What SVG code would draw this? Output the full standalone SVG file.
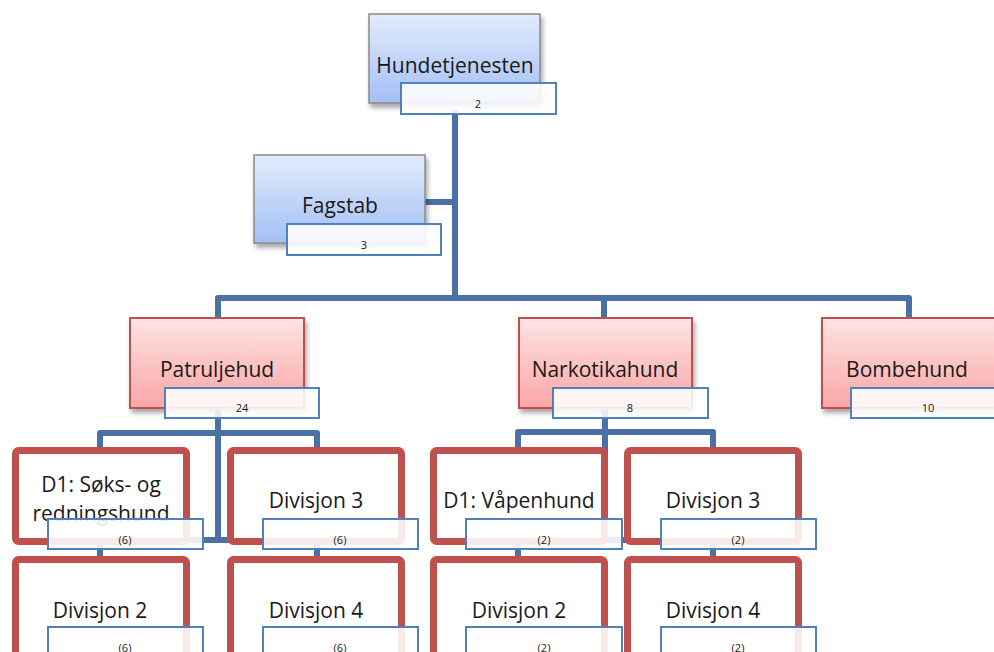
<svg xmlns="http://www.w3.org/2000/svg" width="994" height="652" viewBox="0 0 994 652">
  <defs>
    <linearGradient id="gBlue" x1="0" y1="0" x2="0" y2="1">
      <stop offset="0" stop-color="#e3ecfc"/>
      <stop offset="1" stop-color="#a3bff5"/>
    </linearGradient>
    <linearGradient id="gRed" x1="0" y1="0" x2="0" y2="1">
      <stop offset="0" stop-color="#ffe3e3"/>
      <stop offset="1" stop-color="#faa6a6"/>
    </linearGradient>
    <filter id="shadow" x="-10%" y="-10%" width="125%" height="130%">
      <feGaussianBlur in="SourceAlpha" stdDeviation="2.5"/>
      <feOffset dx="2" dy="4" result="b"/>
      <feComponentTransfer><feFuncA type="linear" slope="0.35"/></feComponentTransfer>
      <feMerge><feMergeNode/><feMergeNode in="SourceGraphic"/></feMerge>
    </filter>
  </defs>
  <style>
    .conn { fill: none; stroke: #4a70a6; stroke-width: 6; stroke-linejoin: round; stroke-linecap: butt; }
    .blue { fill: url(#gBlue); stroke: #8a8a8a; stroke-width: 1.5; filter: url(#shadow); }
    .red { fill: url(#gRed); stroke: #c0504d; stroke-width: 2; filter: url(#shadow); }
    .sub { fill: #ffffff; stroke: #c0504d; stroke-width: 7; }
    .lbl { fill: #ffffff; fill-opacity: 0.88; stroke: #4f81bd; stroke-width: 2; }
    .t { font-family: "Open Sans", "Liberation Sans", sans-serif; font-size: 21px; fill: #1a1a1a; text-anchor: middle; }
    .n { font-family: "Open Sans", "Liberation Sans", sans-serif; font-size: 11px; fill: #1a1a1a; text-anchor: middle; }
  </style>

  <rect width="994" height="652" fill="#ffffff"/>

  <g id="connectors">
    <path class="conn" d="M455,110 V298"/>
    <path class="conn" d="M425,202 H455"/>
    <path class="conn" d="M218,320 V298 H909 V320"/>
    <path class="conn" d="M604,298 V320"/>
    <!-- Patruljehud branch -->
    <path class="conn" d="M218,410 V540"/>
    <path class="conn" d="M100,449 V433 H317 V449"/>
    <path class="conn" d="M100,540 H317"/>
    <path class="conn" d="M100,540 V660"/>
    <path class="conn" d="M317,540 V660"/>
    <!-- Narkotikahund branch -->
    <path class="conn" d="M605,410 V540"/>
    <path class="conn" d="M518,449 V432 H713 V449"/>
    <path class="conn" d="M518,540 H713"/>
    <path class="conn" d="M518,540 V660"/>
    <path class="conn" d="M713,540 V660"/>
  </g>

  <g id="hundetjenesten">
    <rect class="blue" x="369" y="14" width="171" height="89"/>
    <text class="t" x="455" y="73">Hundetjenesten</text>
    <rect class="lbl" x="401" y="83" width="155" height="31"/>
    <text class="n" x="478" y="108">2</text>
  </g>

  <g id="fagstab">
    <rect class="blue" x="254" y="155" width="171" height="88"/>
    <text class="t" x="340" y="213">Fagstab</text>
    <rect class="lbl" x="287" y="224" width="154" height="31"/>
    <text class="n" x="364" y="249">3</text>
  </g>

  <g id="patruljehud">
    <rect class="red" x="130" y="318" width="174" height="90"/>
    <text class="t" x="217" y="377">Patruljehud</text>
    <rect class="lbl" x="165" y="388" width="154" height="30"/>
    <text class="n" x="242" y="412">24</text>
  </g>

  <g id="narkotikahund">
    <rect class="red" x="519" y="318" width="173" height="90"/>
    <text class="t" x="605" y="377">Narkotikahund</text>
    <rect class="lbl" x="553" y="388" width="155" height="30"/>
    <text class="n" x="630" y="412">8</text>
  </g>

  <g id="bombehund">
    <rect class="red" x="822" y="318" width="180" height="90"/>
    <text class="t" x="907" y="377">Bombehund</text>
    <rect class="lbl" x="851" y="388" width="155" height="30"/>
    <text class="n" x="928" y="412">10</text>
  </g>

  <g id="p-d1">
    <rect class="sub" x="15.5" y="450.5" width="171" height="91" rx="3"/>
    <text class="t" x="101" y="492">D1: Søks- og</text>
    <text class="t" x="101" y="521">redningshund</text>
    <rect class="lbl" x="48" y="519" width="155" height="30"/>
    <text class="n" x="125" y="544">(6)</text>
  </g>

  <g id="p-div3">
    <rect class="sub" x="230.5" y="450.5" width="171" height="91" rx="3"/>
    <text class="t" x="316" y="508">Divisjon 3</text>
    <rect class="lbl" x="263" y="519" width="155" height="30"/>
    <text class="n" x="340" y="544">(6)</text>
  </g>

  <g id="p-div2">
    <rect class="sub" x="15.5" y="559.5" width="171" height="110" rx="3"/>
    <text class="t" x="100" y="618">Divisjon 2</text>
    <rect class="lbl" x="48" y="627" width="155" height="30"/>
    <text class="n" x="125" y="652">(6)</text>
  </g>

  <g id="p-div4">
    <rect class="sub" x="230.5" y="559.5" width="171" height="110" rx="3"/>
    <text class="t" x="316" y="618">Divisjon 4</text>
    <rect class="lbl" x="263" y="627" width="155" height="30"/>
    <text class="n" x="340" y="652">(6)</text>
  </g>

  <g id="n-d1">
    <rect class="sub" x="433.5" y="450.5" width="171" height="91" rx="3"/>
    <text class="t" x="519" y="508">D1: Våpenhund</text>
    <rect class="lbl" x="466" y="519" width="156" height="30"/>
    <text class="n" x="544" y="544">(2)</text>
  </g>

  <g id="n-div3">
    <rect class="sub" x="627.5" y="450.5" width="171" height="91" rx="3"/>
    <text class="t" x="713" y="508">Divisjon 3</text>
    <rect class="lbl" x="661" y="519" width="155" height="30"/>
    <text class="n" x="738" y="544">(2)</text>
  </g>

  <g id="n-div2">
    <rect class="sub" x="433.5" y="559.5" width="171" height="110" rx="3"/>
    <text class="t" x="519" y="618">Divisjon 2</text>
    <rect class="lbl" x="466" y="627" width="156" height="30"/>
    <text class="n" x="544" y="652">(2)</text>
  </g>

  <g id="n-div4">
    <rect class="sub" x="627.5" y="559.5" width="171" height="110" rx="3"/>
    <text class="t" x="713" y="618">Divisjon 4</text>
    <rect class="lbl" x="661" y="627" width="155" height="30"/>
    <text class="n" x="738" y="652">(2)</text>
  </g>
</svg>
